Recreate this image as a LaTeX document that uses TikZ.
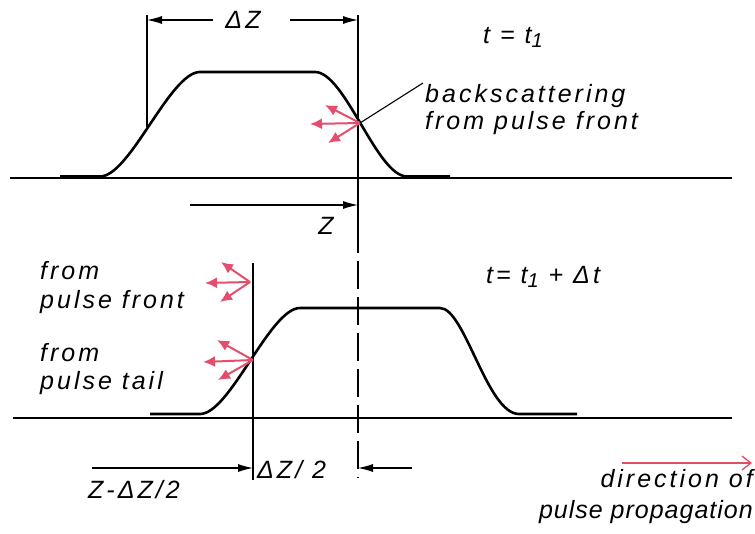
\documentclass[tikz,border=0pt]{standalone}
\usepackage{fontspec}
\setmainfont{Liberation Sans}[LetterSpace=12]
\usetikzlibrary{arrows.meta}
\definecolor{pred}{RGB}{228,78,108}
\definecolor{dred}{RGB}{222,80,100}
\newcommand{\subone}{\raisebox{-0.35ex}{\fontsize{20}{21}\selectfont 1}}
\begin{document}
\begin{tikzpicture}[x=1pt,y=-1pt,
  lbl/.style={font=\fontsize{25}{29}\selectfont\itshape, inner sep=0pt},
  pulse/.style={line width=2.6pt, line join=round, line cap=butt},
  axis/.style={line width=1.3pt},
  thinl/.style={line width=1.1pt},
  dim/.style={thinl,-{Latex[length=15pt,width=8pt]}},
  sc/.style={pred, line width=2pt, -{Latex[length=12pt,width=11pt]}},
]
\useasboundingbox (0,0) rectangle (755,533);

% ---------- top: t = t1 ----------
\draw[axis] (10,178) -- (732,178);
\draw[pulse] (60,176.5) -- (100,176.5) .. controls (130,176.5) and (170,72) .. (200,72)
  -- (315,72) .. controls (345,72) and (377,176.5) .. (407,176.5) -- (450,176.5);
\draw[thinl] (147,15) -- (147,127);
\draw[thinl] (358,15) -- (358,225);
\draw[thinl, dash pattern=on 28pt off 8pt] (358,225) -- (358,478);

\node[lbl, anchor=base] (dz) at (243,28) {ΔZ};
\coordinate (dzl) at (147,20);
\coordinate (dzr) at (358,20);
\coordinate (dzla) at (213,20);
\coordinate (dzra) at (290,20);
\draw[dim] (dzla) -- (dzl);
\draw[dim] (dzra) -- (dzr);

\node[lbl, anchor=base west] (t1) at (483,43) {t = t\subone};

\coordinate (bs) at (360,123);
\draw[sc] (bs) -- (325,105);
\draw[sc] (bs) -- (310,124);
\draw[sc] (bs) -- (328,143);
\node[lbl, anchor=base west] (bsa) at (425,102) {backscattering};
\node[lbl, anchor=base west] (bsb) at (425,129) {from pulse front};
\coordinate (lead) at (423,83);
\draw[thinl] (bs) -- (lead);

\coordinate (za) at (190,205);
\coordinate (zb) at (358,205);
\draw[dim] (za) -- (zb);
\node[lbl, anchor=base] (z) at (326,234) {Z};

% ---------- bottom: t = t1 + dt ----------
\draw[axis] (13,418) -- (732,418);
\draw[line width=2pt] (13,417.5) -- (55,417.5);
\draw[pulse] (150,414) -- (200,414) .. controls (230,414) and (270,308) .. (300,308)
  -- (440,308) .. controls (465,308) and (487,414) .. (519,414) -- (577,414);
\draw[thinl] (253,263) -- (253,480);

\coordinate (g1) at (250,282);
\draw[sc] (g1) -- (221,262);
\draw[sc] (g1) -- (205,283);
\draw[sc] (g1) -- (220,302);
\coordinate (g2) at (253,360);
\draw[sc] (g2) -- (217,340);
\draw[sc] (g2) -- (203,362);
\draw[sc] (g2) -- (218,380);

\node[lbl, anchor=base west] (fa) at (40,279) {from};
\node[lbl, anchor=base west] (fb) at (40,308) {pulse front};
\node[lbl, anchor=base west] (fc) at (40,361) {from};
\node[lbl, anchor=base west] (fd) at (40,389) {pulse tail};

\node[lbl, anchor=base west] (t2) at (486,283) {t= t\subone\ + Δt};

\coordinate (ba) at (92,468);
\coordinate (bb) at (253,468);
\draw[dim] (ba) -- (bb);
\coordinate (bc) at (412,468);
\coordinate (bd) at (358,468);
\draw[dim] (bc) -- (bd);
\node[lbl, anchor=base west] (dz2) at (257,478) {ΔZ/ 2};
\node[lbl, anchor=base west] (zdz) at (88,498) {Z-ΔZ/2};

\coordinate (da) at (622,463);
\coordinate (db) at (752,463);
\draw[dred, line width=1.3pt, -{Straight Barb[length=9pt,width=14pt]}] (da) -- (db);
\node[lbl, anchor=base east] (dir1) at (753,487) {direction of};
\node[lbl, anchor=base east] (dir2) at (753,518) {\addfontfeatures{LetterSpace=4}pulse propagation};
\end{tikzpicture}
\end{document}
